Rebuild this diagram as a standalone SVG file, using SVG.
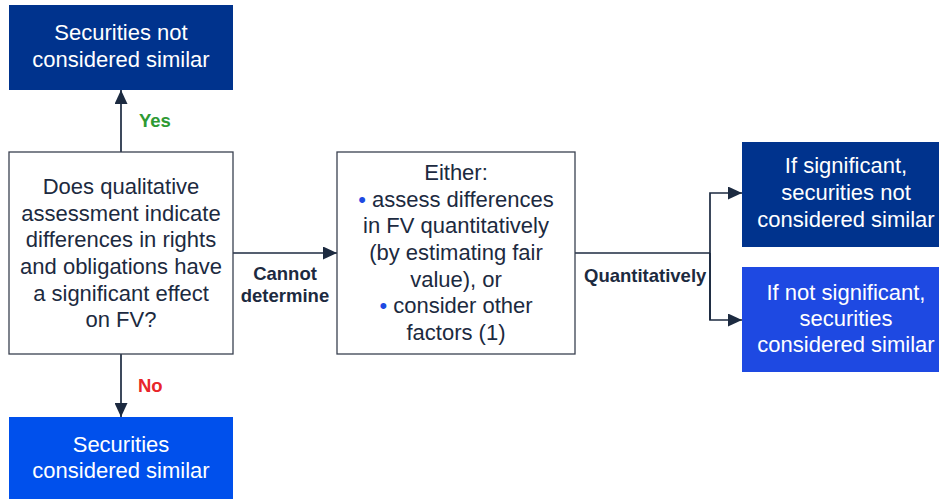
<svg xmlns="http://www.w3.org/2000/svg" width="939" height="499" viewBox="0 0 939 499">
  <style>
    .t { font-family: "Liberation Sans", Arial, sans-serif; font-size: 22px; text-anchor: middle; }
    .w { fill: #ffffff; }
    .d { fill: #1c2a40; }
    .lbl { font-family: "Liberation Sans", Arial, sans-serif; font-size: 18.5px; font-weight: bold; }
    .box { fill: #ffffff; stroke: #3a4150; stroke-width: 1.3; }
    .wire { fill: none; stroke: #1c2a40; stroke-width: 1.7; }
    .bul { fill: #1e49e2; }
  </style>
  <defs>
    <marker id="arrow" viewBox="0 0 14 13" refX="14" refY="6.5" markerWidth="14" markerHeight="13" markerUnits="userSpaceOnUse" orient="auto">
      <path d="M0,0 L14,6.5 L0,13 Z" fill="#1c2a40"/>
    </marker>
  </defs>

  <g id="connectors">
    <path class="wire" d="M121,152 V90" marker-end="url(#arrow)"/>
    <path class="wire" d="M121,354 V417" marker-end="url(#arrow)"/>
    <path class="wire" d="M233,253 H337" marker-end="url(#arrow)"/>
    <path class="wire" d="M575,253 H710"/>
    <path class="wire" d="M710,320 V193 H742" marker-end="url(#arrow)"/>
    <path class="wire" d="M710,253 V320 H742" marker-end="url(#arrow)"/>
    <text class="lbl" x="139" y="127" fill="#2e9a33">Yes</text>
    <text class="lbl" x="138" y="392" fill="#e8252a">No</text>
    <text class="lbl d" x="285" y="280" text-anchor="middle">Cannot</text>
    <text class="lbl d" x="285" y="302" text-anchor="middle">determine</text>
    <text class="lbl d" x="584" y="282">Quantitatively</text>
  </g>

  <g id="not-similar-top">
    <rect x="9" y="5" width="224" height="85" fill="#00338d"/>
    <text class="t w" x="121" y="40">Securities not</text>
    <text class="t w" x="121" y="67">considered similar</text>
  </g>

  <g id="question">
    <rect class="box" x="9" y="152" width="224" height="202"/>
    <text class="t d" x="121" y="194">Does qualitative</text>
    <text class="t d" x="121" y="221">assessment indicate</text>
    <text class="t d" x="121" y="247">differences in rights</text>
    <text class="t d" x="121" y="274">and obligations have</text>
    <text class="t d" x="121" y="301">a significant effect</text>
    <text class="t d" x="121" y="327">on FV?</text>
  </g>

  <g id="similar-bottom">
    <rect x="9" y="417" width="224" height="90" fill="#0050ec"/>
    <text class="t w" x="121" y="452">Securities</text>
    <text class="t w" x="121" y="478">considered similar</text>
  </g>

  <g id="either">
    <rect class="box" x="337" y="152" width="238" height="202"/>
    <text class="t d" x="456" y="180">Either:</text>
    <text class="t d" x="456" y="207"><tspan class="bul">•</tspan> assess differences</text>
    <text class="t d" x="456" y="233">in FV quantitatively</text>
    <text class="t d" x="456" y="260">(by estimating fair</text>
    <text class="t d" x="456" y="287">value), or</text>
    <text class="t d" x="456" y="313"><tspan class="bul">•</tspan> consider other</text>
    <text class="t d" x="456" y="340">factors (1)</text>
  </g>

  <g id="significant">
    <rect x="742" y="142" width="210" height="105" fill="#00338d"/>
    <text class="t w" x="846" y="173">If significant,</text>
    <text class="t w" x="846" y="200">securities not</text>
    <text class="t w" x="846" y="227">considered similar</text>
  </g>

  <g id="not-significant">
    <rect x="742" y="267" width="210" height="105" fill="#1e49e2"/>
    <text class="t w" x="846" y="300">If not significant,</text>
    <text class="t w" x="846" y="326">securities</text>
    <text class="t w" x="846" y="352">considered similar</text>
  </g>
</svg>
